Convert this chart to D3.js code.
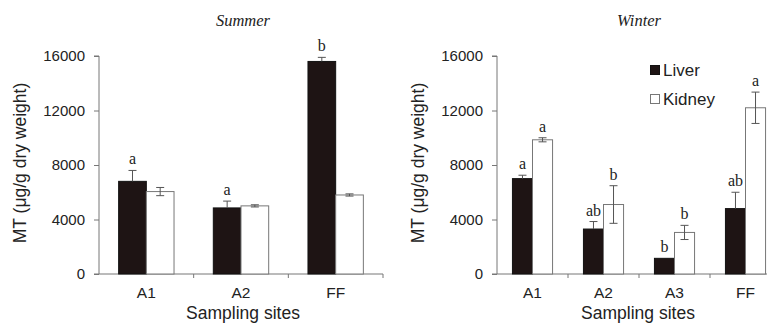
<!DOCTYPE html>
<html><head><meta charset="utf-8">
<script src="https://cdn.jsdelivr.net/npm/d3@7"></script>
<style>
html,body{margin:0;padding:0;background:#fff;overflow:hidden}
svg{display:block}
text{fill:#222}
</style></head><body>
<svg id="chart" width="767" height="323"></svg>
<script>
// ---- data ----
const seriesNames = ["Liver", "Kidney"];
const yTicks = [0, 4000, 8000, 12000, 16000];

const summerSites = ["A1", "A2", "FF"];
const summerLiver = [6800, 4850, 15600];
const summerLiverErr = [800, 500, 300];
const summerKidney = [6050, 5000, 5800];
const summerKidneyErr = [300, 80, 80];
const summerLiverSig = ["a", "a", "b"];
const summerKidneySig = ["", "", ""];

const winterSites = ["A1", "A2", "A3", "FF"];
const winterLiver = [7000, 3300, 1150, 4800];
const winterLiverErr = [250, 550, 0, 1200];
const winterKidney = [9850, 5100, 3050, 12200];
const winterKidneyErr = [150, 1380, 520, 1150];
const winterLiverSig = ["a", "ab", "b", "ab"];
const winterKidneySig = ["a", "b", "b", "a"];

const svg = d3.select("#chart");
const sans = "'Liberation Sans',Arial,sans-serif";
const serif = "'Liberation Serif','Times New Roman',serif";
const axisColor = "#777";
const liverFill = "#1e1414";

function panel(opt) {
  const g = svg.append("g");
  const y = d3.scaleLinear().domain([0, 16000]).range([274, 56]);
  const x0 = d3.scaleBand().domain(opt.sites).range([opt.x0, opt.x1]).padding(0);
  const bw = x0.bandwidth();
  const x1 = d3.scaleBand().domain(seriesNames)
    .range([bw * (1 - opt.group) / 2, bw * (1 + opt.group) / 2]).padding(0);

  const rows = opt.sites.map((s, i) => ({
    site: s,
    vals: [
      {k: "Liver", v: opt.liver[i], e: opt.liverErr[i], sig: opt.liverSig[i]},
      {k: "Kidney", v: opt.kidney[i], e: opt.kidneyErr[i], sig: opt.kidneySig[i]}
    ]
  }));

  // y axis
  const yAxis = g.append("g").attr("transform", `translate(${opt.x0},0)`)
    .call(d3.axisLeft(y).tickValues(yTicks).tickSize(5).tickPadding(9).tickFormat(d3.format("d")));
  yAxis.select(".domain").attr("stroke", axisColor).attr("d", `M-5,${y(0)}H0V${y(16000)}H-5`);
  yAxis.selectAll(".tick line").attr("stroke", axisColor);
  yAxis.selectAll(".tick text").style("font-size", "15px").style("font-family", sans).attr("fill", "#222");

  // x axis
  const xAxis = g.append("g").attr("transform", `translate(0,${y(0)})`)
    .call(d3.axisBottom(x0).tickSize(0).tickPadding(13));
  xAxis.select(".domain").attr("stroke", axisColor).attr("d", `M${opt.x0},0H${opt.x1}`);
  xAxis.selectAll(".tick text").style("font-size", "15.5px").style("font-family", sans).attr("fill", "#222");
  // boundary ticks
  g.append("g").selectAll("line").data(opt.sites)
    .join("line")
    .attr("x1", d => x0(d) + bw).attr("x2", d => x0(d) + bw)
    .attr("y1", y(0)).attr("y2", y(0) + 4)
    .attr("stroke", axisColor);

  // bars
  const grp = g.append("g").selectAll("g").data(rows).join("g")
    .attr("transform", d => `translate(${x0(d.site)},0)`);

  grp.selectAll("rect").data(d => d.vals).join("rect")
    .attr("x", d => x1(d.k))
    .attr("y", d => y(d.v))
    .attr("width", x1.bandwidth())
    .attr("height", d => y(0) - y(d.v))
    .attr("fill", d => d.k === "Liver" ? liverFill : "#fff")
    .attr("stroke", d => d.k === "Liver" ? "#111" : "#777")
    .attr("stroke-width", 1);

  // error bars
  const eb = grp.selectAll("g.err").data(d => d.vals.filter(v => v.e > 0)).join("g").attr("class", "err");
  const capW = 4;
  const cx = d => x1(d.k) + x1.bandwidth() / 2;
  eb.append("line")
    .attr("x1", cx).attr("x2", cx)
    .attr("y1", d => y(d.k === "Liver" ? d.v : d.v - d.e)).attr("y2", d => y(d.v + d.e))
    .attr("stroke", "#555");
  eb.append("line")
    .attr("x1", d => cx(d) - capW).attr("x2", d => cx(d) + capW)
    .attr("y1", d => y(d.v + d.e)).attr("y2", d => y(d.v + d.e))
    .attr("stroke", "#555");
  eb.filter(d => d.k === "Kidney").append("line")
    .attr("x1", d => cx(d) - capW).attr("x2", d => cx(d) + capW)
    .attr("y1", d => y(d.v - d.e)).attr("y2", d => y(d.v - d.e))
    .attr("stroke", "#555");

  // significance letters
  grp.selectAll("text.sig").data(d => d.vals.filter(v => v.sig)).join("text").attr("class", "sig")
    .attr("x", cx)
    .attr("y", d => y(d.v + d.e) - 6)
    .attr("text-anchor", "middle")
    .style("font-family", serif)
    .style("font-size", "16px")
    .attr("fill", "#222")
    .text(d => d.sig);

  // titles
  g.append("text").attr("x", opt.titleX).attr("y", 26).attr("text-anchor", "middle")
    .style("font-family", serif).style("font-style", "italic")
    .style("font-size", "16.5px").attr("fill", "#333")
    .text(opt.title);
  g.append("text").attr("x", opt.xLabelX).attr("y", 319).attr("text-anchor", "middle")
    .style("font-family", sans).style("font-size", "17.5px").text("Sampling sites");
  g.append("text").attr("transform", `translate(${opt.yLabelX},163) rotate(-90)`)
    .attr("text-anchor", "middle").attr("dy", "0.35em")
    .style("font-family", sans).style("font-size", "17.5px")
    .text("MT (μg/g dry weight)");
}

panel({
  sites: summerSites, liver: summerLiver, liverErr: summerLiverErr, kidney: summerKidney,
  kidneyErr: summerKidneyErr, liverSig: summerLiverSig, kidneySig: summerKidneySig,
  x0: 99, x1: 383, group: 0.585, title: "Summer", titleX: 243, xLabelX: 243, yLabelX: 20
});
panel({
  sites: winterSites, liver: winterLiver, liverErr: winterLiverErr, kidney: winterKidney,
  kidneyErr: winterKidneyErr, liverSig: winterLiverSig, kidneySig: winterKidneySig,
  x0: 497, x1: 781, group: 0.565, title: "Winter", titleX: 639, xLabelX: 638, yLabelX: 418
});

// legend
const legend = svg.append("g").attr("transform", "translate(650,65)");
const li = legend.selectAll("g").data(seriesNames).join("g")
  .attr("transform", (d, i) => `translate(0,${i * 29})`);
li.append("rect").attr("x", 0.5).attr("y", 0.5).attr("width", 9).attr("height", 9)
  .attr("fill", d => d === "Liver" ? liverFill : "#fff")
  .attr("stroke", d => d === "Liver" ? "#111" : "#777");
li.append("text").attr("x", 13).attr("y", 11).style("font-family", sans).style("font-size", "17px").text(d => d);
</script>
</body></html>
